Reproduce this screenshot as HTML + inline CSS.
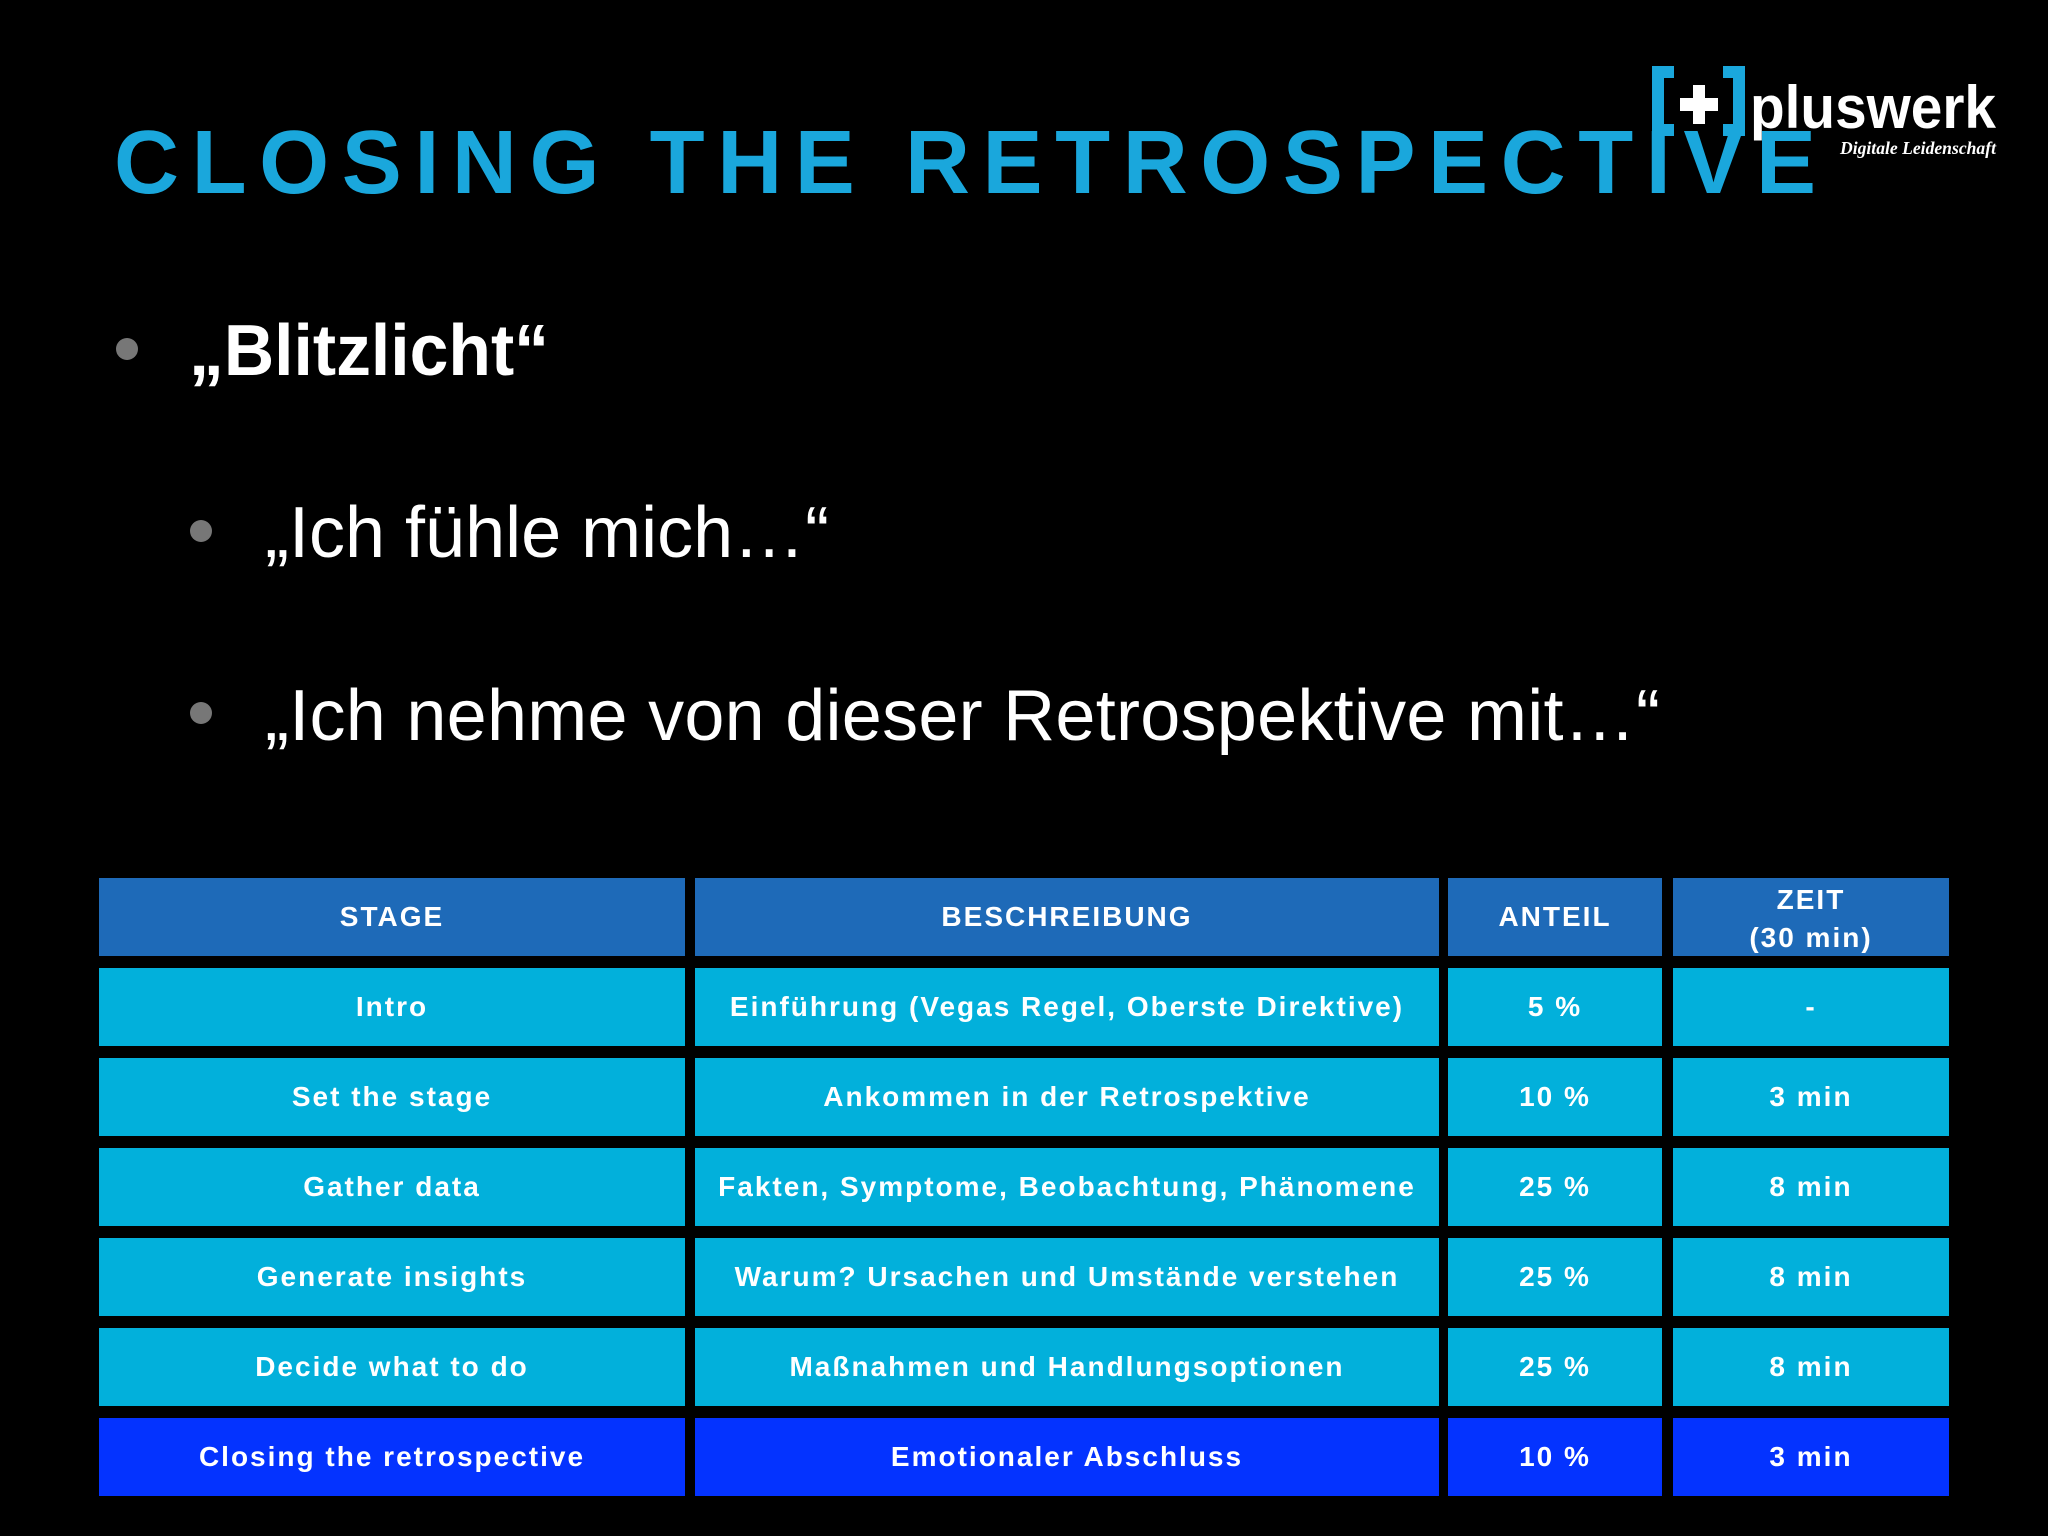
<!DOCTYPE html>
<html><head><meta charset="utf-8"><style>
body{margin:0;background:#000;width:2048px;height:1536px;overflow:hidden;position:relative;font-family:"Liberation Sans",sans-serif}
.c{position:absolute;display:flex;align-items:center;justify-content:center;text-align:center;color:#fff;font-weight:bold;font-size:28px;letter-spacing:2px;line-height:38px}
</style></head><body>
<svg width="2048" height="1536" style="position:absolute;left:0;top:0">
<text x="114" y="193" font-family="Liberation Sans" font-weight="bold" font-size="90" fill="#1aa7dc" textLength="1702" lengthAdjust="spacing">CLOSING THE RETROSPECTIVE</text>
<g>
<path d="M1652 66h22v12h-10v46h10v12h-22z M1745 66h-22v12h10v46h-10v12h22z" fill="#1aa7dc"/>
<rect x="1680" y="98" width="38" height="13" fill="#fff"/><rect x="1693" y="85" width="12" height="39" fill="#fff"/>
<text x="1750" y="128" font-family="Liberation Sans" font-weight="bold" font-size="60" fill="#fff" textLength="246" lengthAdjust="spacingAndGlyphs">pluswerk</text>
<text x="1840" y="154" font-family="Liberation Serif" font-style="italic" font-weight="bold" font-size="18" fill="#fff" textLength="156" lengthAdjust="spacingAndGlyphs">Digitale Leidenschaft</text>
</g>
<circle cx="127" cy="349" r="11" fill="#777"/>
<text x="189" y="375" font-family="Liberation Sans" font-weight="bold" font-size="72" fill="#fff" textLength="360" lengthAdjust="spacingAndGlyphs">„Blitzlicht“</text>
<circle cx="201" cy="531" r="11" fill="#777"/>
<text x="265" y="557" font-family="Liberation Sans" font-size="72" fill="#fff">„Ich fühle mich…“</text>
<circle cx="201" cy="713" r="11" fill="#777"/>
<text x="265" y="740" font-family="Liberation Sans" font-size="72" fill="#fff" textLength="1395" lengthAdjust="spacing">„Ich nehme von dieser Retrospektive mit…“</text>
</svg>
<div id="tbl"></div>
<script>
const cols=[[99,586],[695,744],[1448,214],[1673,276]];
const header=["STAGE","BESCHREIBUNG","ANTEIL","ZEIT<br>(30 min)"];
const rows=[
["Intro","Einführung (Vegas Regel, Oberste Direktive)","5 %","-"],
["Set the stage","Ankommen in der Retrospektive","10 %","3 min"],
["Gather data","Fakten, Symptome, Beobachtung, Phänomene","25 %","8 min"],
["Generate insights","Warum? Ursachen und Umstände verstehen","25 %","8 min"],
["Decide what to do","Maßnahmen und Handlungsoptionen","25 %","8 min"],
["Closing the retrospective","Emotionaler Abschluss","10 %","3 min"]];
const t=document.getElementById('tbl');
const all=[header].concat(rows);
all.forEach((r,i)=>{
 r.forEach((txt,j)=>{
  const d=document.createElement('div');
  
  
  d.className='c';
  d.style.left=cols[j][0]+'px';d.style.width=cols[j][1]+'px';
  d.style.top=(878+i*90)+'px';d.style.height='78px';
  d.style.background=i===0?'#1e6ab8':(i===all.length-1?'#0433ff':'#02b0db');
  if(i===0&&j===3){d.style.lineHeight='38px';d.style.paddingTop='4px';d.style.height='74px';}
  d.innerHTML=txt;
  t.appendChild(d);
 });
});
</script>
</body></html>
